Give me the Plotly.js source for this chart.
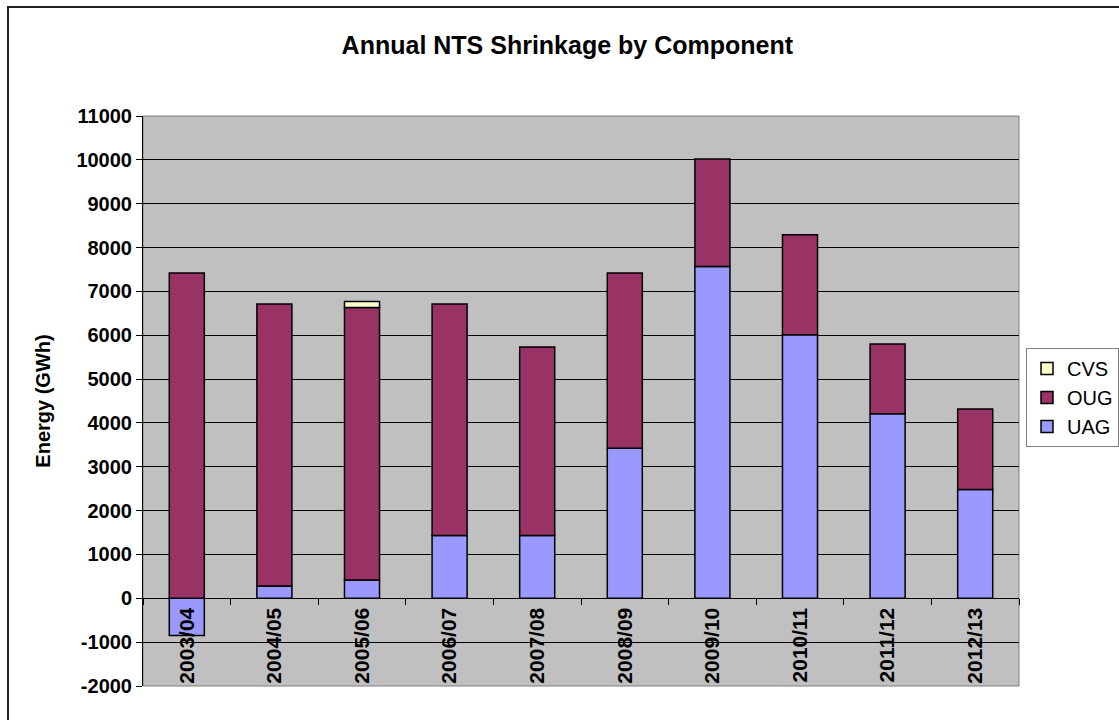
<!DOCTYPE html>
<html>
<head>
<meta charset="utf-8">
<script src="https://cdn.plot.ly/plotly-3.0.1.min.js"></script>
<style>
  html, body { margin: 0; padding: 0; background: #fff; overflow: hidden; }
  #wrap { position: relative; width: 1119px; height: 720px; }
  #chart { width: 1119px; height: 720px; }
  #frame { position: absolute; left: 7px; top: 6px; width: 1200px; height: 800px;
           border-left: 2px solid #222; border-top: 2px solid #222; pointer-events: none; }
</style>
</head>
<body>
<div id="wrap"><div id="chart"></div><div id="frame"></div></div>
<script>
const categories = ["2003/04","2004/05","2005/06","2006/07","2007/08","2008/09","2009/10","2010/11","2011/12","2012/13"];
const uagValues = [-850, 280, 420, 1430, 1430, 3420, 7570, 6010, 4210, 2480];
const ougValues = [7420, 6430, 6210, 5280, 4300, 4000, 2450, 2280, 1590, 1840];
const cvsValues = [null, null, 140, null, null, null, null, null, null, null];
const yTicks = [-2000,-1000,0,1000,2000,3000,4000,5000,6000,7000,8000,9000,10000,11000];

const FONT = "Arial, 'Liberation Sans', sans-serif";
const outline = {color: "#000000", width: 1.5};

const traces = [
  {type: "bar", name: "UAG", x: categories, y: uagValues, width: 0.4,
   marker: {color: "#9999FF", line: outline}},
  {type: "bar", name: "OUG", x: categories, y: ougValues, width: 0.4,
   marker: {color: "#993366", line: outline}},
  {type: "bar", name: "CVS", x: categories, y: cvsValues, width: 0.4,
   marker: {color: "#FFFFCC", line: outline}}
];

const layout = {
  width: 1119, height: 720,
  margin: {l: 143, r: 100, t: 116, b: 34, autoexpand: false},
  paper_bgcolor: "#ffffff",
  plot_bgcolor: "#C0C0C0",
  barmode: "relative",
  showlegend: true,
  font: {family: FONT, color: "#000000"},
  title: {text: "Annual NTS Shrinkage by Component", xref: "container", x: 0.507,
          yref: "container", y: 1 - 45/720, yanchor: "middle", xanchor: "center",
          font: {family: FONT, size: 25, weight: "bold", color: "#000"}},
  xaxis: {
    type: "category",
    anchor: "free", position: 2000/13000,
    tickangle: -90,
    tickfont: {family: FONT, size: 21, weight: "bold", color: "#000"},
    ticks: "outside", ticklen: 6, tickcolor: "#000", tickwidth: 1,
    tickson: "boundaries",
    showline: true, linecolor: "#000", linewidth: 1,
    showgrid: false, zeroline: false, automargin: false
  },
  yaxis: {
    range: [-2000, 11000], tickvals: yTicks, ticktext: yTicks.map(String),
    tickfont: {family: FONT, size: 20, weight: "bold", color: "#000"},
    ticks: "outside", ticklen: 6, tickcolor: "#000", tickwidth: 1,
    showline: true, linecolor: "#000", linewidth: 1,
    showgrid: true, gridcolor: "#000000", gridwidth: 1,
    zeroline: false, automargin: false,
    title: {text: "Energy (GWh)", standoff: 20,
            font: {family: FONT, size: 20, weight: "bold", color: "#000"}}
  },
  legend: {
    xref: "container", yref: "container",
    x: 1026/1119, xanchor: "left", y: 1 - 348/720, yanchor: "top",
    bgcolor: "#ffffff", bordercolor: "#808080", borderwidth: 1,
    traceorder: "reversed",
    font: {family: FONT, size: 20, color: "#000"},
    itemwidth: 30, tracegroupgap: 0
  },
  shapes: [
    {type: "rect", xref: "paper", yref: "paper", x0: 0, x1: 1, y0: 0, y1: 1,
     line: {color: "#808080", width: 1}, layer: "below"}
  ]
};

Plotly.newPlot("chart", traces, layout, {displayModeBar: false, staticPlot: true});
</script>
</body>
</html>
